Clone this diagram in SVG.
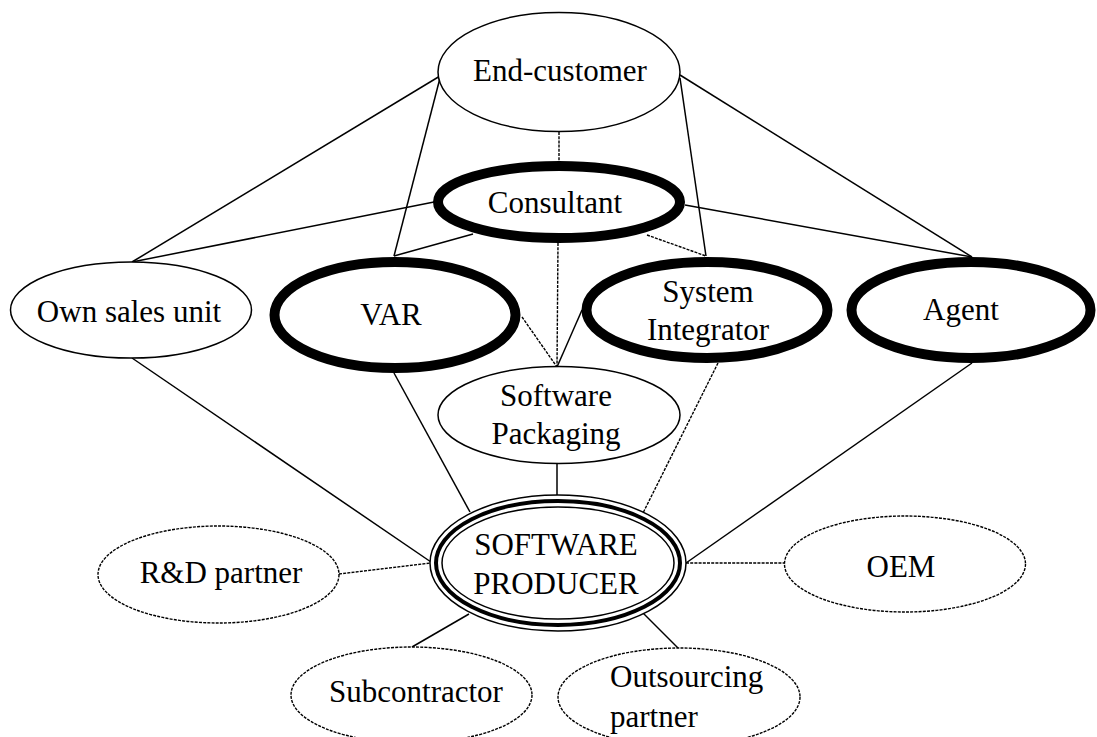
<svg xmlns="http://www.w3.org/2000/svg" width="1097" height="737" viewBox="0 0 1097 737">
<style>
.bg{fill:#fff}
.thin{fill:#fff;stroke:#000;stroke-width:1.5}
.thick{fill:#fff;stroke:#000;stroke-width:10}
.dash{fill:#fff;stroke:#000;stroke-width:1.4;stroke-dasharray:3 1.2}
.t{font-family:"Liberation Serif","Times New Roman",serif;font-size:31px;fill:#000;text-anchor:middle}
.s{stroke:#000;stroke-width:1.5;fill:none}
.d{stroke:#000;stroke-width:1.4;fill:none;stroke-dasharray:3 1.2}
</style>
<rect class="bg" x="0" y="0" width="1097" height="737"/>
<g id="connectors">
<line class="s" x1="440" y1="76" x2="132" y2="262"/>
<line class="s" x1="440" y1="78" x2="394" y2="256"/>
<line class="d" x1="559" y1="132" x2="559" y2="162"/>
<line class="s" x1="680" y1="78" x2="706" y2="256"/>
<line class="s" x1="680" y1="75" x2="972" y2="257"/>
<line class="s" x1="434" y1="202" x2="132" y2="262"/>
<line class="s" x1="473" y1="234" x2="394" y2="256"/>
<line class="d" x1="558" y1="243" x2="557" y2="367"/>
<line class="d" x1="647" y1="235" x2="706" y2="256"/>
<line class="s" x1="685" y1="205" x2="972" y2="257"/>
<line class="d" x1="522" y1="317" x2="557" y2="367"/>
<line class="s" x1="582" y1="310" x2="557" y2="367"/>
<line class="s" x1="394" y1="373" x2="470" y2="512"/>
<line class="s" x1="132" y1="358" x2="431" y2="562"/>
<line class="s" x1="557" y1="463" x2="557" y2="495"/>
<line class="d" x1="718" y1="363" x2="643" y2="513"/>
<line class="s" x1="972" y1="363" x2="686" y2="563"/>
<line class="d" x1="339" y1="574" x2="431" y2="563"/>
<line class="s" x1="469" y1="614" x2="412" y2="647"/>
<line class="s" x1="643" y1="613" x2="678" y2="648"/>
<line class="d" x1="686" y1="563" x2="785" y2="563"/>
</g>
<g id="end-customer">
<ellipse class="thin" cx="559" cy="72" rx="121" ry="59.5"/>
<text class="t" x="560" y="81">End-customer</text>
</g>
<g id="consultant">
<ellipse class="thick" cx="559" cy="202" rx="121" ry="36"/>
<text class="t" x="555" y="213">Consultant</text>
</g>
<g id="own-sales-unit">
<ellipse class="thin" cx="131" cy="310" rx="120.5" ry="48"/>
<text class="t" x="129" y="322">Own sales unit</text>
</g>
<g id="var">
<ellipse class="thick" cx="395" cy="315" rx="120.5" ry="53"/>
<text class="t" x="391" y="325">VAR</text>
</g>
<g id="system-integrator">
<ellipse class="thick" cx="707" cy="310" rx="120.5" ry="48"/>
<text class="t" x="708" y="302">System</text>
<text class="t" x="708" y="340">Integrator</text>
</g>
<g id="agent">
<ellipse class="thick" cx="971" cy="310" rx="119.5" ry="48"/>
<text class="t" x="961" y="320">Agent</text>
</g>
<g id="software-packaging">
<ellipse class="thin" cx="559" cy="415" rx="121" ry="48.5"/>
<text class="t" x="556" y="406">Software</text>
<text class="t" x="556" y="444">Packaging</text>
</g>
<g id="software-producer">
<ellipse class="thin" cx="558" cy="563" rx="128" ry="68"/>
<ellipse fill="none" stroke="#000" stroke-width="4" cx="558" cy="563" rx="122" ry="62"/>
<ellipse class="thin" cx="558" cy="563" rx="116" ry="56"/>
<text class="t" x="556" y="555">SOFTWARE</text>
<text class="t" x="556" y="594">PRODUCER</text>
</g>
<g id="rd-partner">
<ellipse class="dash" cx="218.5" cy="574.5" rx="120.5" ry="48.5"/>
<text class="t" x="221" y="583">R&amp;D partner</text>
</g>
<g id="oem">
<ellipse class="dash" cx="905" cy="564" rx="120.5" ry="48"/>
<text class="t" x="901" y="577">OEM</text>
</g>
<g id="subcontractor">
<ellipse class="dash" cx="411.5" cy="695" rx="120.5" ry="48"/>
<text class="t" x="416" y="702">Subcontractor</text>
</g>
<g id="outsourcing-partner">
<ellipse class="dash" cx="679" cy="697" rx="121" ry="49"/>
<text class="t" x="610" y="687" style="text-anchor:start">Outsourcing</text>
<text class="t" x="610" y="727" style="text-anchor:start">partner</text>
</g>
</svg>
